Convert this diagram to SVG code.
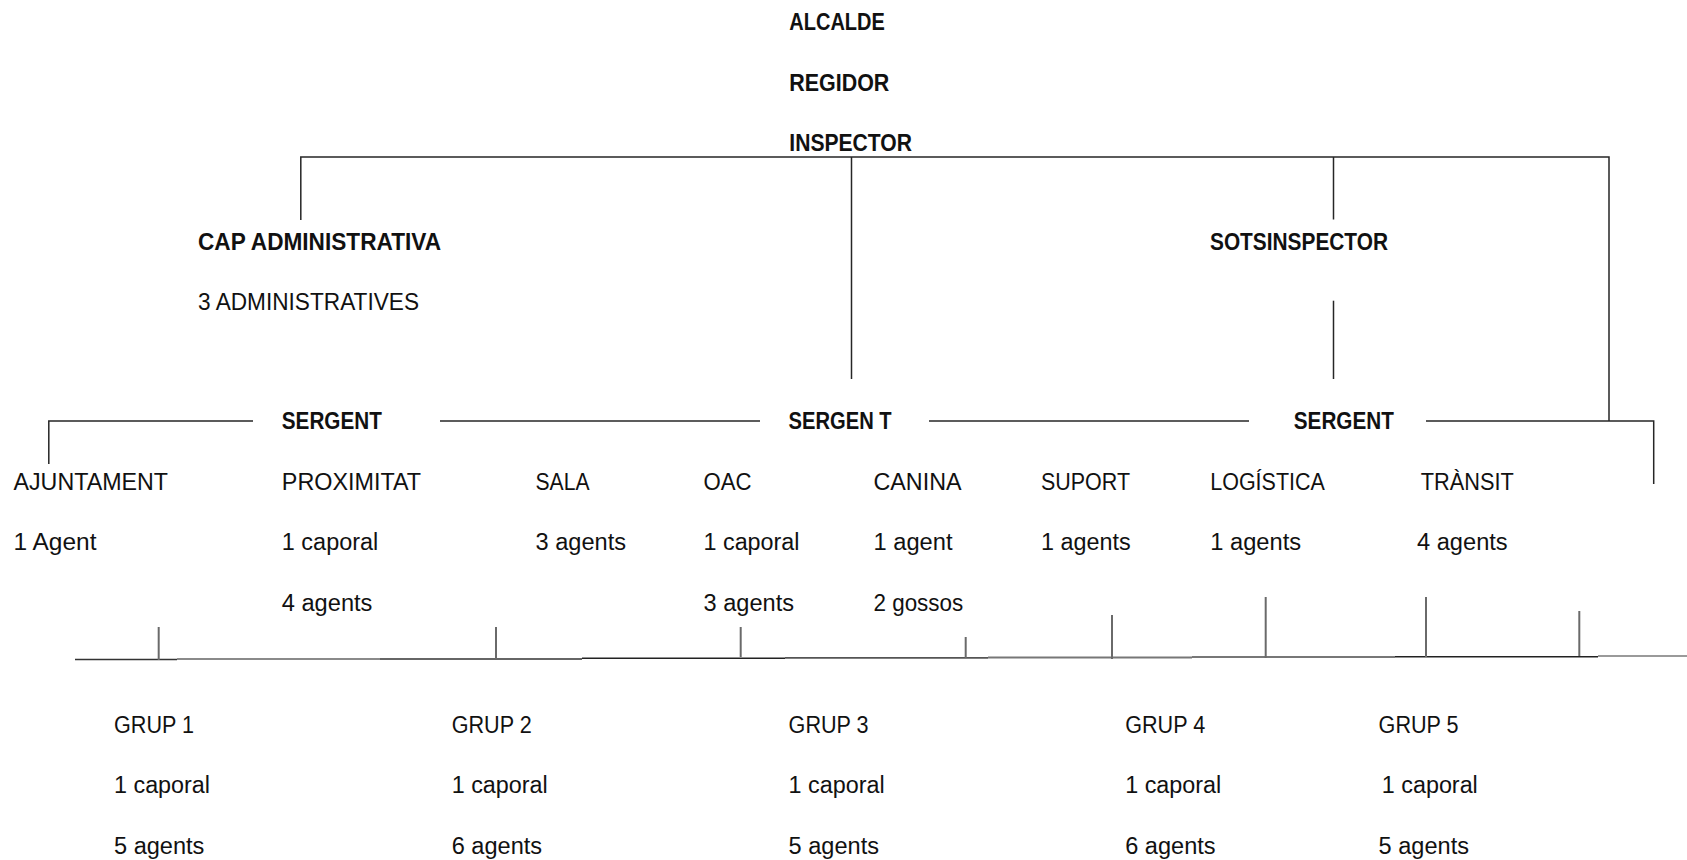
<svg xmlns="http://www.w3.org/2000/svg" width="1687" height="860" viewBox="0 0 1687 860">
<style>
text{font-family:"Liberation Sans",Arial,sans-serif;font-size:23px;fill:#111}
.b{font-weight:bold}
.ln{stroke:#262626;stroke-width:1.5;fill:none}
.tk{stroke:#6a6a6a;stroke-width:2;fill:none}
</style>
<rect width="1687" height="860" fill="#fff"/>
<g id="connectors">
<path class="ln" d="M300.8,220 V157 H1609 V421"/>
<path class="ln" d="M851.5,157 V379"/>
<path class="ln" d="M1333.5,157 V219.5"/>
<path class="ln" d="M1333.5,300.7 V379"/>
<path class="ln" d="M48.8,464 V421 H253"/>
<path class="ln" d="M440,421 H760"/>
<path class="ln" d="M929,421 H1249"/>
<path class="ln" d="M1426,421 H1653.7 V484"/>
<g id="bottom-line">
<path d="M75,659.5 H177" stroke="#333" stroke-width="1.6"/>
<path d="M177,659 H380" stroke="#8a8a8a" stroke-width="2"/>
<path d="M380,659 H582" stroke="#666" stroke-width="2"/>
<path d="M582,658.3 H785" stroke="#222" stroke-width="1.5"/>
<path d="M785,657.8 H988" stroke="#555" stroke-width="1.8"/>
<path d="M988,657.5 H1192" stroke="#777" stroke-width="2"/>
<path d="M1192,657 H1395" stroke="#777" stroke-width="2"/>
<path d="M1395,656.7 H1598" stroke="#222" stroke-width="1.5"/>
<path d="M1598,656 H1687" stroke="#9a9a9a" stroke-width="2"/>
</g>
<path class="tk" d="M158.7,627 V660"/>
<path class="tk" d="M496,627 V659"/>
<path class="tk" d="M740.7,627 V657"/>
<path class="tk" d="M965.7,637 V658"/>
<path class="tk" d="M1112,615 V659"/>
<path class="tk" d="M1265.7,597 V658"/>
<path class="tk" d="M1426,597 V657"/>
<path class="tk" d="M1579.3,611 V656"/>
</g>
<g id="alcalde"><text class="b" x="789.3" y="30" textLength="95.5" lengthAdjust="spacingAndGlyphs">ALCALDE</text></g>
<g id="regidor"><text class="b" x="789.3" y="90.5" textLength="100" lengthAdjust="spacingAndGlyphs">REGIDOR</text></g>
<g id="inspector"><text class="b" x="789.3" y="151" textLength="122.7" lengthAdjust="spacingAndGlyphs">INSPECTOR</text></g>
<g id="cap-administrativa">
<text class="b" x="198" y="249.5" textLength="243" lengthAdjust="spacingAndGlyphs">CAP ADMINISTRATIVA</text>
<text x="198" y="309.8" textLength="221" lengthAdjust="spacingAndGlyphs">3 ADMINISTRATIVES</text>
</g>
<g id="sotsinspector"><text class="b" x="1210" y="249.5" textLength="178" lengthAdjust="spacingAndGlyphs">SOTSINSPECTOR</text></g>
<g id="sergent-1"><text class="b" x="281.8" y="429.3" textLength="100" lengthAdjust="spacingAndGlyphs">SERGENT</text></g>
<g id="sergent-2"><text class="b" x="788.6" y="429.3" textLength="103" lengthAdjust="spacingAndGlyphs">SERGEN T</text></g>
<g id="sergent-3"><text class="b" x="1293.8" y="429.3" textLength="100" lengthAdjust="spacingAndGlyphs">SERGENT</text></g>
<g id="ajuntament">
<text x="13.5" y="489.6" textLength="154.5" lengthAdjust="spacingAndGlyphs">AJUNTAMENT</text>
<text x="13.5" y="550.2" textLength="83" lengthAdjust="spacingAndGlyphs">1 Agent</text>
</g>
<g id="proximitat">
<text x="281.8" y="489.6" textLength="139.3" lengthAdjust="spacingAndGlyphs">PROXIMITAT</text>
<text x="281.8" y="550.2" textLength="96.5" lengthAdjust="spacingAndGlyphs">1 caporal</text>
<text x="281.8" y="610.5" textLength="90.6" lengthAdjust="spacingAndGlyphs">4 agents</text>
</g>
<g id="sala">
<text x="535.5" y="489.6" textLength="54" lengthAdjust="spacingAndGlyphs">SALA</text>
<text x="535.5" y="550.2" textLength="90.5" lengthAdjust="spacingAndGlyphs">3 agents</text>
</g>
<g id="oac">
<text x="703.5" y="489.6" textLength="48" lengthAdjust="spacingAndGlyphs">OAC</text>
<text x="703.5" y="550.2" textLength="96" lengthAdjust="spacingAndGlyphs">1 caporal</text>
<text x="703.5" y="610.5" textLength="90.5" lengthAdjust="spacingAndGlyphs">3 agents</text>
</g>
<g id="canina">
<text x="873.5" y="489.6" textLength="88" lengthAdjust="spacingAndGlyphs">CANINA</text>
<text x="873.5" y="550.2" textLength="79" lengthAdjust="spacingAndGlyphs">1 agent</text>
<text x="873.5" y="610.5" textLength="89.7" lengthAdjust="spacingAndGlyphs">2 gossos</text>
</g>
<g id="suport">
<text x="1041" y="489.6" textLength="89" lengthAdjust="spacingAndGlyphs">SUPORT</text>
<text x="1041" y="550.2" textLength="89.6" lengthAdjust="spacingAndGlyphs">1 agents</text>
</g>
<g id="logistica">
<text x="1210.3" y="489.6" textLength="114.5" lengthAdjust="spacingAndGlyphs">LOGÍSTICA</text>
<text x="1210.3" y="550.2" textLength="90.8" lengthAdjust="spacingAndGlyphs">1 agents</text>
</g>
<g id="transit">
<text x="1420.8" y="489.6" textLength="93" lengthAdjust="spacingAndGlyphs">TRÀNSIT</text>
<text x="1417" y="550.2" textLength="90.7" lengthAdjust="spacingAndGlyphs">4 agents</text>
</g>
<g id="grup-1">
<text x="114" y="733" textLength="80" lengthAdjust="spacingAndGlyphs">GRUP 1</text>
<text x="114" y="793.3" textLength="96" lengthAdjust="spacingAndGlyphs">1 caporal</text>
<text x="114" y="853.6" textLength="90.4" lengthAdjust="spacingAndGlyphs">5 agents</text>
</g>
<g id="grup-2">
<text x="451.7" y="733" textLength="80" lengthAdjust="spacingAndGlyphs">GRUP 2</text>
<text x="451.7" y="793.3" textLength="96" lengthAdjust="spacingAndGlyphs">1 caporal</text>
<text x="451.7" y="853.6" textLength="90.4" lengthAdjust="spacingAndGlyphs">6 agents</text>
</g>
<g id="grup-3">
<text x="788.6" y="733" textLength="80" lengthAdjust="spacingAndGlyphs">GRUP 3</text>
<text x="788.6" y="793.3" textLength="96" lengthAdjust="spacingAndGlyphs">1 caporal</text>
<text x="788.6" y="853.6" textLength="90.4" lengthAdjust="spacingAndGlyphs">5 agents</text>
</g>
<g id="grup-4">
<text x="1125.2" y="733" textLength="80" lengthAdjust="spacingAndGlyphs">GRUP 4</text>
<text x="1125.2" y="793.3" textLength="96" lengthAdjust="spacingAndGlyphs">1 caporal</text>
<text x="1125.2" y="853.6" textLength="90.4" lengthAdjust="spacingAndGlyphs">6 agents</text>
</g>
<g id="grup-5">
<text x="1378.6" y="733" textLength="80" lengthAdjust="spacingAndGlyphs">GRUP 5</text>
<text x="1381.8" y="793.3" textLength="96" lengthAdjust="spacingAndGlyphs">1 caporal</text>
<text x="1378.6" y="853.6" textLength="90.4" lengthAdjust="spacingAndGlyphs">5 agents</text>
</g>
</svg>
